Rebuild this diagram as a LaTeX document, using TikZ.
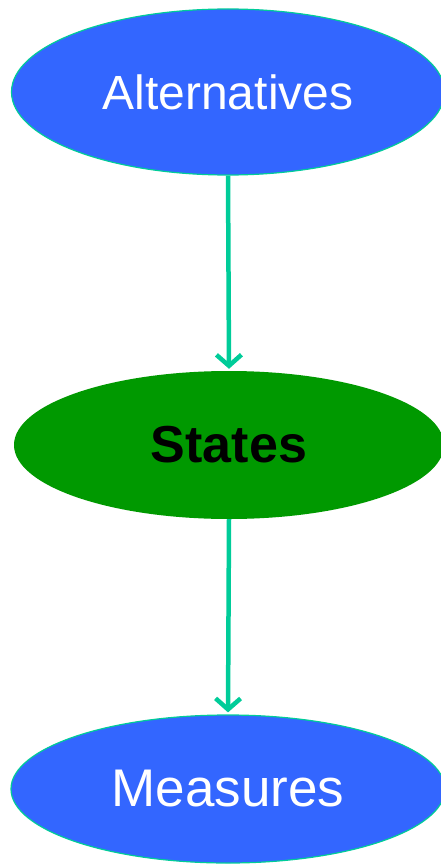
\documentclass[tikz,border=0pt]{standalone}
\usepackage{fontspec}
\setmainfont{Liberation Sans}
\usetikzlibrary{shapes.geometric,positioning,arrows.meta}
\definecolor{nodeblue}{RGB}{51,102,255}
\definecolor{nodegreen}{RGB}{0,153,0}
\definecolor{teal}{RGB}{0,204,153}
\tikzset{
    bluenode/.style={
        ellipse,
        draw=teal,
        line width=1.2pt,
        fill=nodeblue,
        text=white,
        inner sep=0pt
    },
    greennode/.style={
        ellipse,
        fill=nodegreen,
        text=black,
        inner sep=0pt
    },
    % arrow between the ellipses
    tealarrow/.style={
        line width=4.5pt,
        teal,
        -{Straight Barb[length=11pt, width=25pt]}
    }
}

\begin{document}
\begin{tikzpicture}[x=1pt,y=-1pt]
    \useasboundingbox (0,0) rectangle (441,864);

    \node[bluenode,minimum width=433pt,minimum height=166pt] (alt) at (228,92)
        {\fontsize{48}{58}\selectfont Alternatives};
    \node[greennode,minimum width=430pt,minimum height=148pt] (states) at (229,445)
        {\fontsize{52}{62}\selectfont\bfseries States};
    \node[bluenode,minimum width=434pt,minimum height=148pt] (meas) at (228,789)
        {\fontsize{53}{64}\selectfont Measures};

    \draw[tealarrow] (alt.south) -- ([yshift=2pt]states.north);
    \draw[tealarrow] (states.south) -- ([yshift=2pt]meas.north);
\end{tikzpicture}
\end{document}
